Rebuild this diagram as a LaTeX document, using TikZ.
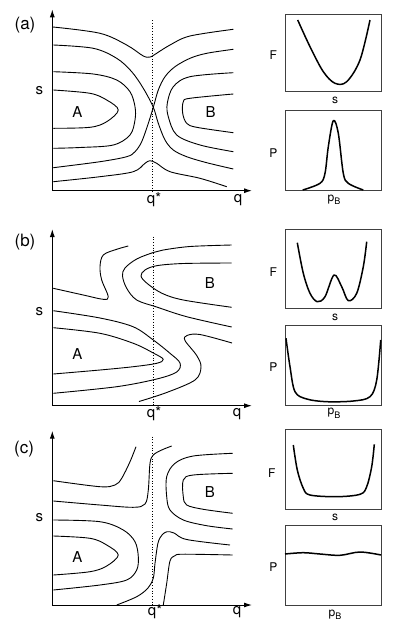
\documentclass[tikz,border=0pt]{standalone}
\usepackage{fontspec}
\setmainfont{TeX Gyre Heros}
\usetikzlibrary{arrows.meta}
\newcommand{\pBsub}{p\raisebox{-0.28em}{\fontsize{9}{9}\selectfont B}}
\begin{document}
\begin{tikzpicture}[x=1pt,y=-1pt,
  contour/.style={line width=0.9pt,line join=round},
  curve/.style={line width=1.5pt,line join=round},
  axis/.style={line width=1pt,-{Latex[length=8pt,width=5pt]}},
  qline/.style={line width=0.75pt,dotted},
  frame/.style={draw=black!75,line width=0.7pt},
  panel/.style={font=\fontsize{17}{17}\selectfont,inner sep=0pt},
  big/.style={font=\fontsize{15}{15}\selectfont,inner sep=0pt},
  small/.style={font=\fontsize{12}{12}\selectfont,inner sep=0pt},
  sm/.style={smooth,tension=0.55}]
\useasboundingbox[fill=white] (0,0) rectangle (400,632);

% ===== Panel (a) =====
\coordinate (aO) at (52.3,190.7);
\coordinate (aY) at (52.3,9.3);
\coordinate (aX) at (252,190.7);
\draw[axis] (aO) -- (aY);
\draw[axis] (aO) -- (aX);
\coordinate (aq1) at (152.7,20);
\coordinate (aq2) at (152.7,190.7);
\draw[qline] (aq1) -- (aq2);
\node[panel] (alab) at (25,25) {(a)};
\node[big] (as) at (39.3,90.5) {s};
\node[big] (aA) at (77.3,111.7) {A};
\node[big] (aB) at (210.7,111.7) {B};
\node[big] (aqs) at (154,200) {q*};
\node[big] (aq) at (238,200) {q};
\draw[contour] plot[sm] coordinates {(53,27) (100,33.3) (126.7,45) (143.3,56) (150,57) (154,55) (170,45) (190,36) (233.3,29.3)};
\draw[contour] plot[sm] coordinates {(53.3,45) (93.3,48.3) (116.7,58.3) (131.7,71.7) (143.3,88.3) (153.3,107.3) (158.3,123.3) (165,140) (173.3,150) (186.7,156.7) (206.7,162.7) (233.3,169)};
\draw[contour] plot[sm] coordinates {(53.3,167.7) (100,161.7) (126.7,156.7) (135,151.7) (141.7,141.7) (148.3,123.3) (153.3,107.3) (158.3,90) (165,76.7) (175,66.7) (190,58.3) (206.7,53.3) (233.3,49.3)};
\draw[contour] plot[sm] coordinates {(53.3,71.7) (93.3,74) (116.7,80) (130,91.7) (135,106.7) (135,120) (130,135) (113.3,145) (80,147.5) (53.3,148.3)};
\draw[contour] plot[sm] coordinates {(53.3,90) (90,93.3) (106.7,100) (118.3,110) (106.7,121.7) (90,127.3) (53.3,128.3)};
\draw[contour] plot[sm] coordinates {(233.3,72.7) (190,76.7) (173.3,86.7) (167.3,103.3) (168.3,116.7) (176.7,135) (200,145) (233.3,151.7)};
\draw[contour] plot[sm] coordinates {(233.3,94) (190,98.3) (183.3,101.7) (182.7,113.3) (186.7,123.3) (196.7,127.3) (233.3,132.7)};
\draw[contour] plot[sm] coordinates {(53.3,181.7) (100,176.7) (133.3,171.7) (145,163.3) (150,160.7) (156.7,163.3) (170,171.7) (200,178.3) (226.7,186.7)};

% small panels (a)
\node[frame,minimum width=96pt,minimum height=77.7pt,inner sep=0pt] (aF) at (333,52.85) {};
\node[frame,minimum width=96pt,minimum height=80.7pt,inner sep=0pt] (aP) at (333,150.35) {};
\node[small] (aFl) at (273.3,55) {F};
\node[small] (aFs) at (335,100) {s};
\node[small] (aPl) at (273.3,153.3) {P};
\node[small] (aPs) at (334,200) {\pBsub};
\draw[curve] plot[sm] coordinates {(297.7,20) (310,46.7) (323.3,71.7) (335,83.3) (346.7,81.7) (360,60) (370,20)};
\draw[curve] plot[sm] coordinates {(302.7,190) (320,183.3) (325,173.3) (328.3,146.7) (333.3,120.7) (338.3,133.3) (343.3,173.3) (348.3,183.3) (363.3,190)};

% ===== Panel (b) =====
\coordinate (bO) at (52.3,405.7);
\coordinate (bY) at (52.3,229);
\coordinate (bX) at (252,405.7);
\draw[axis] (bO) -- (bY);
\draw[axis] (bO) -- (bX);
\coordinate (bq1) at (153.3,236.7);
\coordinate (bq2) at (153.3,405.7);
\draw[qline] (bq1) -- (bq2);
\node[panel] (blab) at (25,242) {(b)};
\node[big] (bs) at (39.3,311.5) {s};
\node[big] (bA) at (77.3,354) {A};
\node[big] (bB) at (210,283.3) {B};
\node[big] (bqs) at (154,414) {q*};
\node[big] (bq) at (237,414) {q};
\draw[contour] plot[sm] coordinates {(128.3,246) (116.7,249.3) (103.3,255) (100,266.7) (101.7,280) (108.3,296.7) (103.3,299.3) (83.3,295) (53.3,288.3)};
\draw[contour] plot[sm] coordinates {(231.7,245) (190,246.5) (163.3,250) (153.3,252.5) (136.7,259) (125,268) (122.5,276) (126.7,288.3) (136.7,300) (156.7,307) (186.7,316.7) (231.7,327)};
\draw[contour] plot[sm] coordinates {(231.7,263) (183.3,263.5) (156.7,265.7) (145,270) (141,276) (147,283.3) (162,293.3) (183.3,300) (231.7,307.3)};
\draw[contour] plot[sm] coordinates {(53.3,310.7) (100,318) (133,326.7) (153.3,340) (170,353.3) (180,363) (176.7,372) (156.7,379) (116.7,386.7) (53.3,393.3)};
\draw[contour] plot[sm] coordinates {(53.3,327.7) (100,333.3) (133.3,343.3) (153.3,353) (163.3,359.3) (156.7,363.3) (133.3,366.7) (100,370) (53.3,374)};
\draw[contour] plot[sm] coordinates {(232,343) (200,334.5) (187,335.5) (185,340.5) (196.7,355.5) (201,367) (195,380) (166.7,392.5) (139,401.5)};

% small panels (b)
\node[frame,minimum width=96pt,minimum height=79pt,inner sep=0pt] (bF) at (333,268.8) {};
\node[frame,minimum width=96pt,minimum height=80pt,inner sep=0pt] (bP) at (333,365) {};
\node[small] (bFl) at (273.3,271.7) {F};
\node[small] (bFs) at (335,317.3) {s};
\node[small] (bPl) at (273.3,366.7) {P};
\node[small] (bPs) at (334,413.3) {\pBsub};
\draw[curve] plot[sm] coordinates {(297.3,242.7) (303.3,273.3) (310,293.3) (317.3,301.7) (325,296.7) (334,275) (341.7,286.7) (348.3,300.7) (356.7,293.3) (363.3,266.7) (366.7,241.7)};
\draw[curve] plot[sm] coordinates {(286,338.3) (290,366.7) (295,391.7) (306.7,399) (326.7,401.7) (353.3,401) (370,396.7) (376.7,380) (380.7,340)};

% ===== Panel (c) =====
\coordinate (cO) at (52.3,605);
\coordinate (cY) at (52.3,430.7);
\coordinate (cX) at (252,605);
\draw[axis] (cO) -- (cY);
\draw[axis] (cO) -- (cX);
\coordinate (cq1) at (152.7,436.7);
\coordinate (cq2) at (152.7,605);
\draw[qline] (cq1) -- (cq2);
\node[panel] (clab) at (24,449) {(c)};
\node[big] (cs) at (39.3,518) {s};
\node[big] (cA) at (77.3,557.3) {A};
\node[big] (cB) at (210,491.7) {B};
\node[big] (cqs) at (155,612) {q*};
\node[big] (cq) at (237,612) {q};
\draw[contour] plot[sm] coordinates {(136,446.7) (130,461.7) (121.7,478.3) (115,485) (100,486.7) (53.3,480.7)};
\draw[contour] plot[sm] coordinates {(53.3,501) (100,505) (133.3,507.3) (145,504) (148.3,490) (150,463.3) (153.3,455) (161.7,450) (171.7,446)};
\draw[contour] plot[sm] coordinates {(232.7,453.3) (193.3,456) (175,463.3) (166.7,476.7) (166.7,496.7) (170,510) (183.3,520) (206.7,525.7) (232.7,529)};
\draw[contour] plot[sm] coordinates {(232.7,473.3) (193.3,475) (183.3,480) (183.3,496.7) (186.7,505) (203.3,509.3) (232.7,513.3)};
\draw[contour] plot[sm] coordinates {(53.3,520) (100,521.7) (123.3,530) (135,541.7) (138.3,556.7) (136.7,570) (126.7,580) (100,585) (53.3,590)};
\draw[contour] plot[sm] coordinates {(53.3,536) (90,538.3) (106.7,545) (118.3,555) (106.7,566) (90,571.7) (53.3,575)};
\draw[contour] plot[sm] coordinates {(116.7,605) (136.7,596.7) (148,588) (153.3,578) (155,563.3) (158,543) (162,535) (167,531.7) (174,533) (186.7,539.5) (230,545)};
\draw[contour] plot[sm] coordinates {(163.3,605) (166.7,583.3) (170,561) (175,555.7) (183.3,554.2) (232.7,555)};

% small panels (c)
\node[frame,minimum width=96pt,minimum height=79.7pt,inner sep=0pt] (cF) at (333,469.15) {};
\node[frame,minimum width=96pt,minimum height=80pt,inner sep=0pt] (cP) at (333,565) {};
\node[small] (cFl) at (271.7,473.3) {F};
\node[small] (cFs) at (335,517.3) {s};
\node[small] (cPl) at (273.3,566.7) {P};
\node[small] (cPs) at (335,615) {\pBsub};
\draw[curve] plot[sm] coordinates {(293.3,445) (297.3,470) (303.3,488.3) (310,495) (336.7,496.7) (360,494.3) (366.7,486.7) (371.7,466.7) (374.3,444.3)};
\draw[curve] plot[sm] coordinates {(285,554) (303.3,552.7) (320,554) (340,555.3) (360,552) (381,555)};
\end{tikzpicture}
\end{document}
